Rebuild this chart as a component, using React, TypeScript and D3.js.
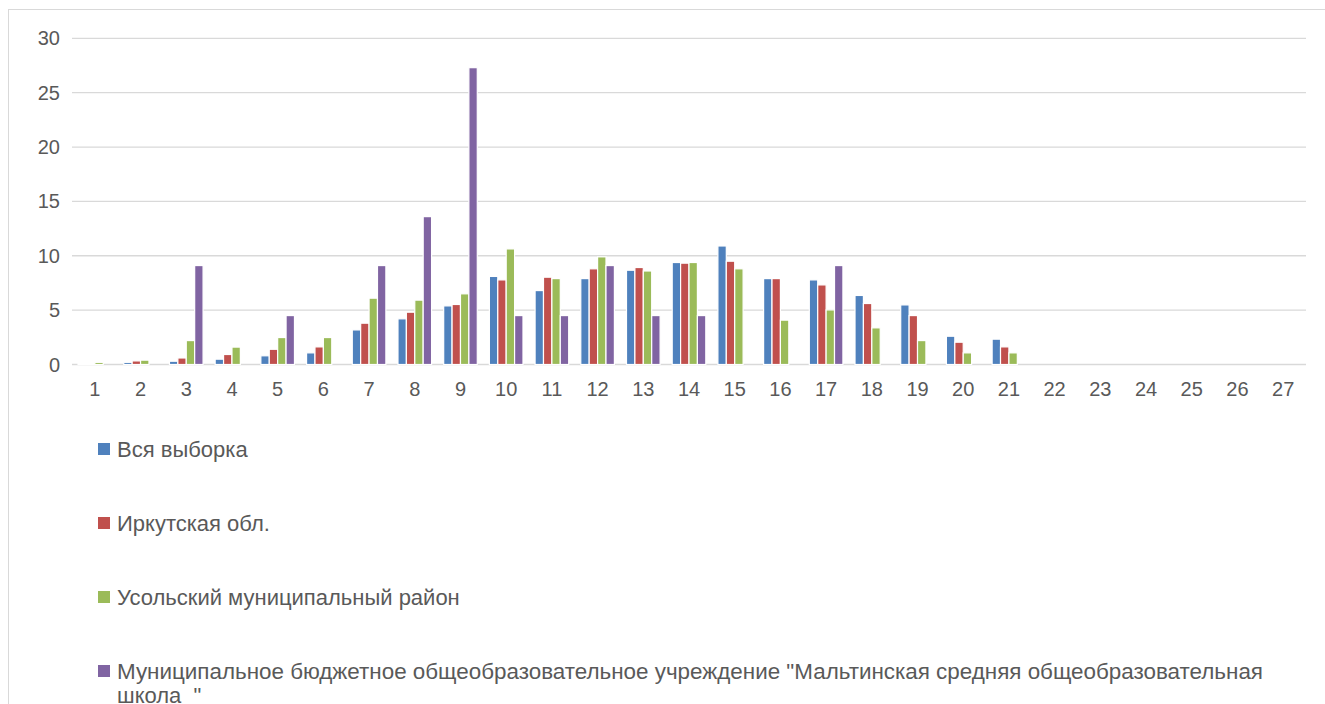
import { scaleBand, scaleLinear } from "d3";

const categories = Array.from({ length: 27 }, (_, i) => String(i + 1));

const seriesNames = [
  "Вся выборка",
  "Иркутская обл.",
  "Усольский муниципальный район",
  'Муниципальное бюджетное общеобразовательное учреждение "Мальтинская средняя общеобразовательная школа_"',
];

const seriesColors = ["#4f81bd", "#c0504d", "#9bbb59", "#8064a2"];

// значения по категориям 1..27
const vsyaVyborka = [
  0.1, 0.2, 0.3, 0.49, 0.8, 1.07, 3.18, 4.2, 5.39, 8.1, 6.8, 7.9, 8.67, 9.38,
  10.9, 7.9, 7.78, 6.35, 5.48, 2.6, 2.33, 0, 0, 0, 0, 0, 0,
];
const irkutskaya = [
  0.1, 0.33, 0.6, 0.92, 1.4, 1.62, 3.8, 4.81, 5.52, 7.78, 8.03, 8.8, 8.92,
  9.32, 9.5, 7.9, 7.32, 5.61, 4.5, 2.05, 1.62, 0, 0, 0, 0, 0, 0,
];
const usolsky = [
  0.2, 0.4, 2.2, 1.6, 2.48, 2.48, 6.1, 5.92, 6.5, 10.63, 7.9, 9.9, 8.6, 9.38,
  8.8, 4.08, 5.02, 3.37, 2.2, 1.07, 1.07, 0, 0, 0, 0, 0, 0,
];
const maltinskaya = [
  0, 0, 9.1, 0, 4.5, 0, 9.1, 13.6, 27.3, 4.5, 4.5, 9.1, 4.5, 4.5, 0, 0, 9.1,
  0, 0, 0, 0, 0, 0, 0, 0, 0, 0,
];

const seriesValues = [vsyaVyborka, irkutskaya, usolsky, maltinskaya];

const yTicks = [0, 5, 10, 15, 20, 25, 30];

const W = 1325;
const H = 704;
const plot = { left: 72, right: 1306, top: 38.3, bottom: 364.5 };

const font = "'Liberation Sans', Arial, sans-serif";
const textColor = "#595959";
const gridColor = "#d9d9d9";

export default function App() {
  const x = scaleBand<string>()
    .domain(categories)
    .range([plot.left, plot.right])
    .padding(0);

  const y = scaleLinear().domain([0, 30]).range([plot.bottom, plot.top]);

  // ширина группы: 4 столбца и зазор ~144%
  const groupW = (x.bandwidth() * 4) / (4 + 1.44);
  const xs = scaleBand<number>()
    .domain([0, 1, 2, 3])
    .range([(x.bandwidth() - groupW) / 2, (x.bandwidth() + groupW) / 2]);

  const legendY = [449, 523, 597, 671];

  return (
    <div style={{ position: "fixed", left: 0, top: 0 }}>
      <svg width={W} height={H} style={{ display: "block", background: "#fff" }}>
        {/* рамка */}
        <rect
          x={8.5}
          y={9.5}
          width={W + 10}
          height={H + 10}
          fill="none"
          stroke={gridColor}
          strokeWidth={1}
        />

        {/* сетка */}
        {yTicks.map((t) => (
          <line
            key={t}
            x1={plot.left}
            x2={plot.right}
            y1={y(t)}
            y2={y(t)}
            stroke={gridColor}
            strokeWidth={1.3}
          />
        ))}

        {/* подписи оси Y */}
        {yTicks.map((t) => (
          <text
            key={t}
            x={60}
            y={y(t)}
            dy="0.35em"
            textAnchor="end"
            fontFamily={font}
            fontSize={20}
            fill={textColor}
          >
            {t}
          </text>
        ))}

        {/* столбцы */}
        {seriesValues.map((vals, si) =>
          vals.map((v, ci) =>
            v > 0 ? (
              <rect
                key={`${si}-${ci}`}
                x={(x(categories[ci]) ?? 0) + (xs(si) ?? 0)}
                y={y(v)}
                width={xs.bandwidth()}
                height={y(0) - y(v)}
                fill={seriesColors[si]}
                stroke="#fff"
                strokeWidth={1.2}
              />
            ) : null,
          ),
        )}

        {/* подписи оси X */}
        {categories.map((c) => (
          <text
            key={c}
            x={(x(c) ?? 0) + x.bandwidth() / 2}
            y={389}
            dy="0.35em"
            textAnchor="middle"
            fontFamily={font}
            fontSize={20}
            fill={textColor}
          >
            {c}
          </text>
        ))}

        {/* легенда */}
        {seriesNames.map((name, i) => {
          const cy = legendY[i];
          const lines =
            i === 3
              ? [name.slice(0, name.lastIndexOf(" ")), name.slice(name.lastIndexOf(" ") + 1)]
              : [name];
          return (
            <g key={name}>
              <rect x={98} y={cy - 6} width={12} height={12} fill={seriesColors[i]} />
              <text fontFamily={font} fontSize={22} fill={textColor}>
                {lines.map((l, li) => (
                  <tspan
                    key={li}
                    x={117}
                    y={cy + li * 24}
                    dy="0.35em"
                    textLength={i === 3 && li === 0 ? 1146 : undefined}
                    lengthAdjust="spacingAndGlyphs"
                  >
                    {l}
                  </tspan>
                ))}
              </text>
            </g>
          );
        })}
      </svg>
    </div>
  );
}
